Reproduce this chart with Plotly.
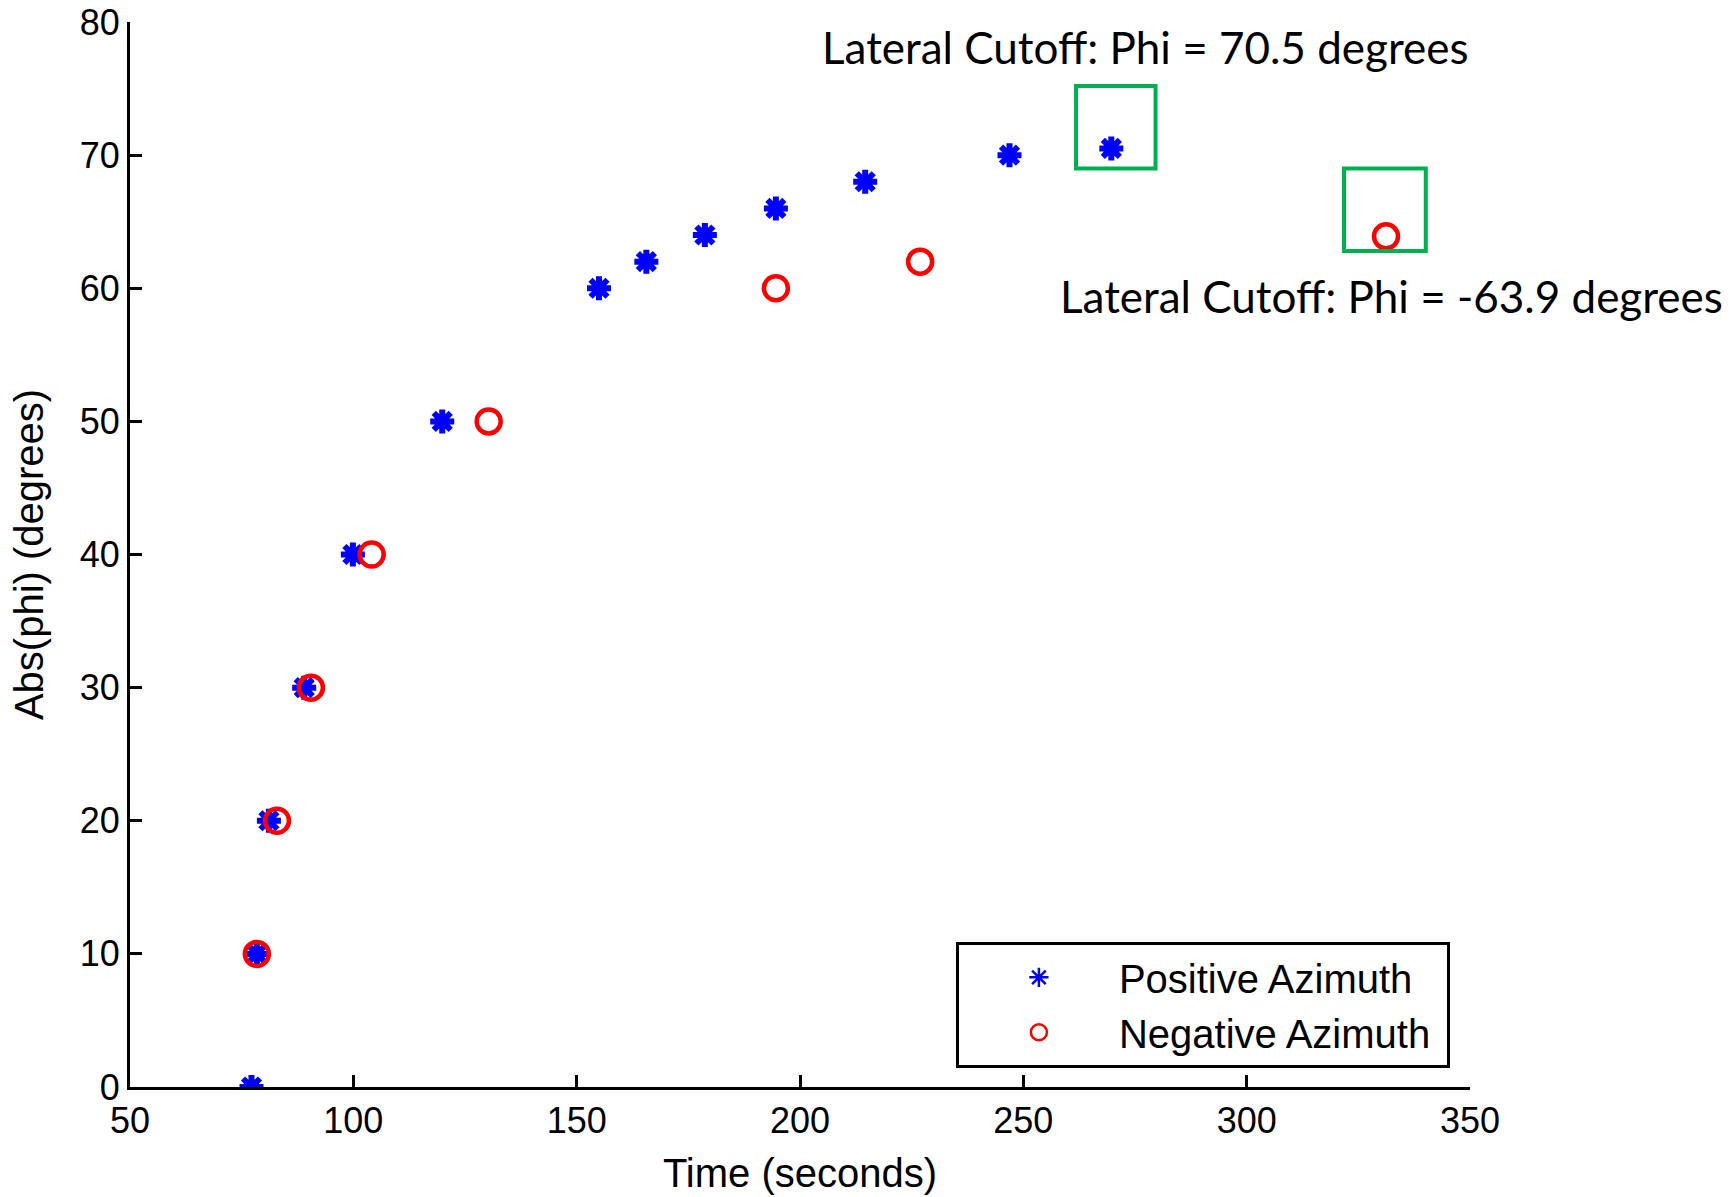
import plotly.graph_objects as go

# Data
pos_time = [77.2, 78.4, 81.1, 89.0, 99.9, 119.9, 155.0, 165.6, 178.7, 194.6, 214.6, 246.9, 269.7]
pos_phi = [0, 10, 20, 30, 40, 50, 60, 62, 64, 66, 68, 70, 70.5]
neg_time = [78.4, 82.9, 90.5, 104.1, 130.3, 194.6, 226.9, 331.2]
neg_phi = [10, 20, 30, 40, 50, 60, 62, 63.9]

x_ticks = [50, 100, 150, 200, 250, 300, 350]
y_ticks = [0, 10, 20, 30, 40, 50, 60, 70, 80]

# highlight boxes (data coords): x0, x1, y0, y1
box_pos = [261.8, 279.6, 69.0, 75.2]
box_neg = [321.8, 340.1, 62.8, 69.0]

ann_pos_text = "Lateral Cutoff: Phi = 70.5 degrees"
ann_neg_text = "Lateral Cutoff: Phi = -63.9 degrees"
ann_pos_xy = [277.3, 78.1]
ann_neg_xy = [332.5, 59.45]

FONT = "Liberation Sans, Arial, sans-serif"
ANN_FONT = "Lato, Open Sans, sans-serif"

fig = go.Figure()

# data traces
fig.add_trace(go.Scatter(
    x=pos_time, y=pos_phi, mode="markers", showlegend=False,
    marker=dict(symbol="asterisk-open", size=20, color="#0000FF",
                line=dict(color="#0000FF", width=6)),
))
fig.add_trace(go.Scatter(
    x=neg_time, y=neg_phi, mode="markers", showlegend=False,
    marker=dict(symbol="circle-open", size=24, color="#FF0000",
                line=dict(color="#FF0000", width=4.5)),
))
# legend entries (thin markers as in the legend)
fig.add_trace(go.Scatter(
    x=[None], y=[None], mode="markers", name="Positive Azimuth",
    marker=dict(symbol="asterisk-open", size=24, color="#0000FF",
                line=dict(color="#0000FF", width=2.5)),
))
fig.add_trace(go.Scatter(
    x=[None], y=[None], mode="markers", name="Negative Azimuth\u00a0",
    marker=dict(symbol="circle-open", size=26, color="#FF0000",
                line=dict(color="#FF0000", width=2.5)),
))

for b in (box_pos, box_neg):
    fig.add_shape(type="rect", xref="x", yref="y",
                  x0=b[0], x1=b[1], y0=b[2], y1=b[3],
                  line=dict(color="#00B050", width=4))

fig.add_annotation(x=ann_pos_xy[0], y=ann_pos_xy[1], xref="x", yref="y",
                   text=ann_pos_text, showarrow=False,
                   font=dict(family=ANN_FONT, size=44, color="black"))
fig.add_annotation(x=ann_neg_xy[0], y=ann_neg_xy[1], xref="x", yref="y",
                   text=ann_neg_text, showarrow=False,
                   font=dict(family=ANN_FONT, size=44, color="black"))

fig.update_layout(
    width=1730, height=1197,
    margin=dict(l=130, r=260, t=22, b=110),
    plot_bgcolor="white", paper_bgcolor="white",
    font=dict(family=FONT, size=36, color="black"),
    legend=dict(
        x=0.985, y=0.018, xanchor="right", yanchor="bottom",
        bgcolor="white", bordercolor="black", borderwidth=3,
        font=dict(family=FONT, size=40, color="black"),
        itemsizing="trace", itemwidth=150,
    ),
)

fig.update_xaxes(
    range=[50, 350], tickvals=x_ticks, ticktext=[str(v) for v in x_ticks],
    showgrid=False, zeroline=False, automargin=False,
    showline=True, linecolor="black", linewidth=3,
    ticks="inside", ticklen=12, tickwidth=3, tickcolor="black",
    tickfont=dict(family=FONT, size=36),
    title=dict(text="Time (seconds)", font=dict(family=FONT, size=40), standoff=19),
)
fig.update_yaxes(
    range=[0, 80], tickvals=y_ticks, ticktext=[str(v) for v in y_ticks],
    showgrid=False, zeroline=False, automargin=False,
    showline=True, linecolor="black", linewidth=3,
    ticks="inside", ticklen=12, tickwidth=3, tickcolor="black",
    tickfont=dict(family=FONT, size=36),
    title=dict(text="Abs(phi) (degrees)", font=dict(family=FONT, size=40), standoff=24),
)

fig.write_html("out.html")
